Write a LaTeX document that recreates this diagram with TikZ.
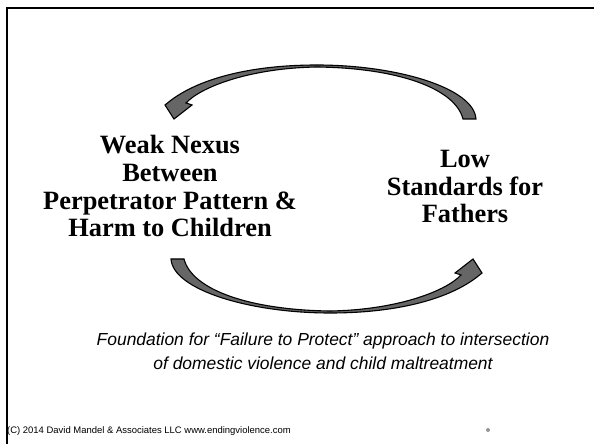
\documentclass[tikz,border=0pt]{standalone}
\usepackage{fontspec}
\setmainfont{Liberation Serif}
\newfontfamily\arialf{Liberation Sans}
\definecolor{arrowgray}{RGB}{102,102,102}
\definecolor{dotgray}{RGB}{150,150,150}
\begin{document}
\begin{tikzpicture}[x=1bp,y=-1bp,
  frame/.style={line width=2.5bp, black},
  cyclearrow/.style={fill=arrowgray, draw=black, line width=1.1bp, line join=miter},
  biglabel/.style={font=\bfseries\fontsize{26.5}{28}\selectfont, align=center, inner sep=0pt, anchor=base},
  captiontext/.style={font=\arialf\itshape\fontsize{17.5}{24}\selectfont, align=center, inner sep=0pt, anchor=base},
  footertext/.style={font=\arialf\fontsize{9.5}{11}\selectfont, inner sep=0pt, anchor=base west}]
\useasboundingbox (0,0) rectangle (594,444);
\draw[frame] (594,8) -- (7,8) -- (7,444);

% anchor=base of a multi-line node sits on its last line
\node[biglabel] (nexus) at (170,237) {Weak Nexus\\Between\\Perpetrator Pattern \&\\Harm to Children};
\node[biglabel] (low) at (465,223) {Low\\Standards for\\Fathers};

% bottom curved arrow (left -> right)
\path[cyclearrow] (171,259) .. controls (173,290) and (250,313) .. (330,313)
  .. controls (400,313) and (450,298) .. (477,277) -- (482,273) -- (473,259) -- (455,273) -- (461,275)
  .. controls (445,292) and (395,310) .. (330,311)
  .. controls (250,310) and (192,290) .. (184,259) -- cycle;
% top curved arrow (right -> left), same shape turned half round
\begin{scope}[rotate around={180:(323.5,189)}]
\path[cyclearrow] (171,259) .. controls (173,290) and (250,313) .. (330,313)
  .. controls (400,313) and (450,298) .. (477,277) -- (482,273) -- (473,259) -- (455,273) -- (461,275)
  .. controls (445,292) and (395,310) .. (330,311)
  .. controls (250,310) and (192,290) .. (184,259) -- cycle;
\end{scope}

\node[captiontext] (caption) at (323,369) {Foundation for “Failure to Protect” approach to intersection\\of domestic violence and child maltreatment};

\node[footertext] (footer) at (7,433) {(C) 2014 David Mandel \& Associates LLC www.endingviolence.com};
\node[circle, fill=dotgray, inner sep=0pt, minimum size=4bp] (dot) at (488,430) {};
\end{tikzpicture}
\end{document}
